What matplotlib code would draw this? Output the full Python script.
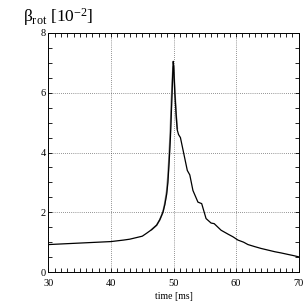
import numpy as np
import matplotlib
matplotlib.use("Agg")
import matplotlib.pyplot as plt
from matplotlib.ticker import MultipleLocator

# values
t = [30, 32, 34, 36, 38, 40, 42, 43, 44, 45, 45.7, 46.5, 47.3, 47.8, 48.3, 48.6,
     48.9, 49.1, 49.3, 49.5, 49.7, 49.85, 49.95, 50.05, 50.2, 50.35, 50.5, 50.6,
     50.8, 51.1, 51.6, 52.2, 52.6, 53.1, 53.9, 54.5, 55.2, 56.0, 56.5, 57.6, 58.7,
     59.5, 60.3, 61.2, 61.9, 63.0, 64.0, 65.0, 66.2, 67.2, 68.3, 69.2, 70.0]
beta = [0.92, 0.94, 0.96, 0.98, 1.0, 1.02, 1.07, 1.1, 1.15, 1.2, 1.3, 1.42, 1.57,
        1.75, 2.0, 2.25, 2.6, 3.0, 3.7, 4.5, 5.6, 6.5, 7.05, 6.8, 6.0, 5.5, 5.0,
        4.75, 4.6, 4.5, 4.0, 3.4, 3.25, 2.73, 2.34, 2.29, 1.79, 1.64, 1.62, 1.4,
        1.27, 1.18, 1.07, 1.0, 0.92, 0.85, 0.79, 0.74, 0.68, 0.64, 0.59, 0.55, 0.51]

# second (grey) curve, only visible around the peak
t2 = [46.5, 47.3, 47.8, 48.3, 48.6, 48.9, 49.1, 49.3, 49.5, 49.65, 49.8, 49.9,
      50.0, 50.1, 50.25, 50.4, 50.6]
beta2 = [1.42, 1.57, 1.75, 2.0, 2.3, 2.7, 3.2, 3.9, 4.8, 5.7, 6.4, 6.8, 6.9,
         6.5, 5.9, 5.3, 4.8]

plt.rcParams['font.family'] = ['Liberation Serif', 'DejaVu Serif']
plt.rcParams['mathtext.fontset'] = 'custom'
plt.rcParams['mathtext.rm'] = 'Liberation Serif'
plt.rcParams['mathtext.it'] = 'Liberation Serif'

fig = plt.figure(figsize=(3.05, 3.05), dpi=100)
ax = fig.add_axes([0.159, 0.108, 0.82, 0.784])

ax.plot(t2, beta2, color='#888888', lw=1.2)
ax.plot(t, beta, color='black', lw=0.9)

ax.set_xlim(30, 70)
ax.set_ylim(0, 8)
ax.xaxis.set_major_locator(MultipleLocator(10))
ax.xaxis.set_minor_locator(MultipleLocator(1))
ax.yaxis.set_major_locator(MultipleLocator(2))
ax.yaxis.set_minor_locator(MultipleLocator(0.5))
ax.tick_params(which='both', direction='in', top=True, right=True,
               labelsize=7.5, width=0.6)
ax.tick_params(which='major', length=3, pad=2)
ax.tick_params(which='minor', length=3)
ax.tick_params(axis='x', which='major', pad=5)
for s in ax.spines.values():
    s.set_linewidth(0.7)

ax.grid(True, which='major', color='#333333', linestyle=(0, (1, 2)), lw=0.5)

ax.set_xlabel('time [ms]', fontsize=7, labelpad=3)
fig.text(0.075, 0.945, 'β$_{\\rm rot}$ [10$^{-2}$]', fontsize=12.5,
         ha='left', va='center')

fig.savefig('out.png', dpi=100)
